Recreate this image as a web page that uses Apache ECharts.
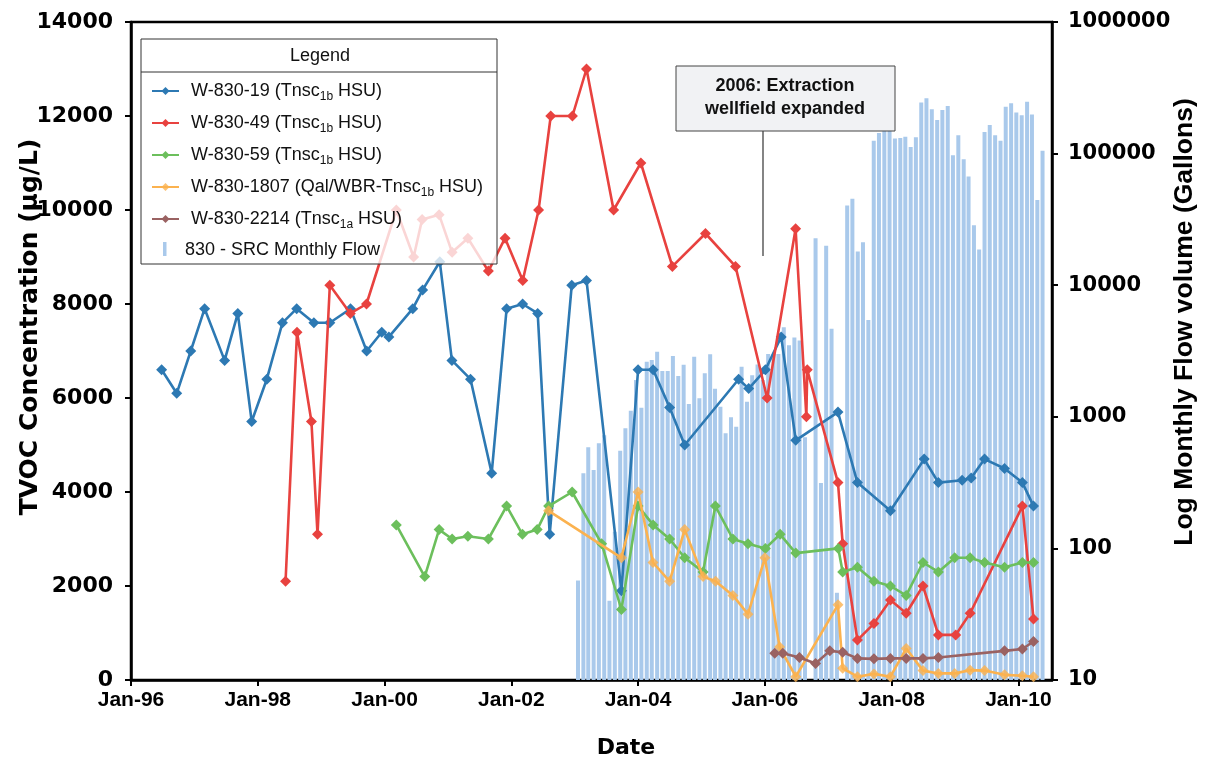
<!DOCTYPE html>
<html>
<head>
<meta charset="utf-8">
<script src="https://cdn.jsdelivr.net/npm/echarts@6/dist/echarts.min.js"></script>
<style>
  html, body { margin: 0; padding: 0; background: #fff; }
  #chart { width: 1205px; height: 764px; }
</style>
</head>
<body>
<div id="chart"></div>
<script>
// ---- Sample data: TVOC concentration (ug/L) by well ----
const w19Dates = ['1996-06-26','1996-09-21','1996-12-11','1997-03-01','1997-06-24','1997-09-08','1997-11-27',
  '1998-02-22','1998-05-23','1998-08-13','1998-11-20','1999-02-20','1999-06-19','1999-09-20','1999-12-16',
  '2000-01-26','2000-06-12','2000-08-08','2000-11-15','2001-01-24','2001-05-11','2001-09-10','2001-12-05',
  '2002-03-07','2002-06-02','2002-08-10','2002-12-15','2003-03-10','2003-09-27','2004-01-01','2004-03-28',
  '2004-07-01','2004-09-26','2005-08-03','2005-09-30','2006-01-04','2006-04-05','2006-06-28','2007-02-26',
  '2007-06-18','2007-12-25','2008-07-07','2008-09-27','2009-02-11','2009-04-04','2009-06-20','2009-10-13',
  '2010-01-24','2010-03-29'];
const w19Values = [6600,6100,7000,7900,6800,7800,5500,6400,7600,7900,7600,7600,7900,7000,7400,7300,7900,8300,8900,
  6800,6400,4400,7900,8000,7800,3100,8400,8500,1900,6600,6600,5800,5000,6400,6200,6600,7300,5100,5700,4200,3600,
  4700,4200,4250,4300,4700,4500,4200,3700];

const w49Dates = ['1998-06-10','1998-08-15','1998-11-06','1998-12-11','1999-02-20','1999-06-18','1999-09-19',
  '2000-03-09','2000-06-17','2000-08-05','2000-11-11','2001-01-25','2001-04-26','2001-08-22','2001-11-26',
  '2002-03-08','2002-06-07','2002-08-16','2002-12-19','2003-03-10','2003-08-13','2004-01-17','2004-07-17',
  '2005-01-24','2005-07-16','2006-01-14','2006-06-27','2006-08-28','2006-09-02','2007-02-26','2007-03-25',
  '2007-06-18','2007-09-21','2007-12-25','2008-03-25','2008-06-30','2008-09-27','2009-01-05','2009-03-29',
  '2010-01-24','2010-03-29'];
const w49Values = [2100,7400,5500,3100,8400,7800,8000,10000,9000,9800,9900,9100,9400,8700,9400,8500,10000,12000,
  12000,13000,10000,11000,8800,9500,8800,6000,9600,5600,6600,4200,2900,850,1200,1700,1420,2000,960,960,1420,
  3700,1300];

const w59Dates = ['2000-03-09','2000-08-20','2000-11-11','2001-01-25','2001-04-26','2001-08-22','2001-12-05',
  '2002-03-06','2002-05-30','2002-08-04','2002-12-17','2003-06-05','2003-09-27','2004-01-01','2004-03-28',
  '2004-07-01','2004-09-26','2005-01-10','2005-03-22','2005-07-01','2005-09-26','2006-01-04','2006-03-30',
  '2006-06-28','2007-02-28','2007-03-25','2007-06-18','2007-09-21','2007-12-25','2008-03-25','2008-06-30',
  '2008-09-27','2008-12-30','2009-03-29','2009-06-20','2009-10-13','2010-01-24','2010-03-29'];
const w59Values = [3300,2200,3200,3000,3060,3000,3700,3100,3200,3700,4000,2900,1500,3700,3300,3000,2600,2300,
  3700,3000,2900,2800,3100,2700,2800,2300,2400,2100,2000,1800,2500,2300,2600,2600,2500,2400,2500,2500];

const w1807Dates = ['2002-08-04','2003-09-27','2004-01-01','2004-03-27','2004-07-01','2004-09-26','2005-01-10',
  '2005-03-23','2005-07-01','2005-09-26','2006-01-01','2006-03-27','2006-06-28','2007-02-26','2007-03-25',
  '2007-06-18','2007-09-21','2007-12-25','2008-03-25','2008-06-30','2008-09-27','2008-12-30','2009-03-29',
  '2009-06-20','2009-10-13','2010-01-24','2010-03-29'];
const w1807Values = [3600,2600,4000,2500,2100,3200,2200,2100,1800,1400,2600,700,70,1600,250,70,130,70,670,200,
  140,140,210,200,110,90,70];

const w2214Dates = ['2006-02-27','2006-04-14','2006-07-19','2006-10-20','2007-01-10','2007-03-25','2007-06-18',
  '2007-09-21','2007-12-25','2008-03-25','2008-06-30','2008-09-27','2009-10-13','2010-01-24','2010-03-29'];
const w2214Values = [570,570,480,350,620,590,460,450,460,460,460,480,620,660,820];

// ---- Monthly extraction flow (gallons), Jan 2003 onward; 0 = no flow that month ----
const flowStartMonth = '2003-01';
const flowGallons = [
  57,372,586,394,629,723,40,134,552,818,1112,1905,
  1172,2625,2704,3126,2230,2230,2897,2042,2489,1250,2863,1381,
  2138,2983,1637,1194,750,991,841,2404,1303,2066,2500,1900,
  3000,3000,3000,4800,3500,4000,3800,700,0,22700,314,19900,
  4670,46,0,40400,45400,18000,21200,5450,125000,143500,151000,151000,
  130000,131500,134500,112000,133000,244000,263000,217000,180000,214000,230000,97000,
  138000,90600,67000,28500,18700,146000,165000,138000,125000,227000,241000,205000,
  196000,248000,198000,44500,105000];

// ---- Axis ticks and labels ----
const xTickYears = [1996,1998,2000,2002,2004,2006,2008,2010];
const seriesNames = ['W-830-19','W-830-49','W-830-59','W-830-1807','W-830-2214'];
const legendLabels = {
  'W-830-19': 'W-830-19 (Tnsc{s|1b} HSU)',
  'W-830-49': 'W-830-49 (Tnsc{s|1b} HSU)',
  'W-830-59': 'W-830-59 (Tnsc{s|1b} HSU)',
  'W-830-1807': 'W-830-1807 (Qal/WBR-Tnsc{s|1b} HSU)',
  'W-830-2214': 'W-830-2214 (Tnsc{s|1a} HSU)'
};
const flowName = '830 - SRC Monthly Flow';
const seriesColors = ['#2d79b3', '#e8423f', '#6cbf5c', '#fbb24f', '#9a6262'];

// Convert a 'YYYY-MM-DD' date to a decimal year.
function toYear(s) {
  const p = s.split('-').map(Number);
  const y = p[0];
  const t0 = Date.UTC(y, 0, 1), t1 = Date.UTC(y + 1, 0, 1);
  return y + (Date.UTC(y, p[1] - 1, p[2] || 1) - t0) / (t1 - t0);
}
function pairs(dates, values) {
  return dates.map((d, i) => [toYear(d), values[i]]);
}
// Monthly totals are plotted late in their month.
function flowData() {
  const [y0, m0] = flowStartMonth.split('-').map(Number);
  return flowGallons.map((v, i) => {
    const m = m0 - 1 + i;
    const y = y0 + Math.floor(m / 12);
    const mm = (m % 12) + 1;
    return [toYear(y + '-' + String(mm).padStart(2, '0') + '-20'), v > 0 ? v : null];
  });
}

const FONT = 'Arial, "Liberation Sans", sans-serif';
const WIDE = '"DejaVu Sans", Verdana, sans-serif';
const sampleSets = [
  pairs(w19Dates, w19Values),
  pairs(w49Dates, w49Values),
  pairs(w59Dates, w59Values),
  pairs(w1807Dates, w1807Values),
  pairs(w2214Dates, w2214Values)
];

const lineSeries = seriesNames.map((name, i) => ({
  name: name,
  type: 'line',
  yAxisIndex: 0,
  data: sampleSets[i],
  symbol: 'diamond',
  symbolSize: 11,
  showSymbol: true,
  z: 3 + i * 0.01,
  lineStyle: { color: seriesColors[i], width: 2.6 },
  itemStyle: { color: seriesColors[i], opacity: name === 'W-830-1807' ? 0.8 : 1 },
  emphasis: { disabled: true },
  animation: false
}));

const chart = echarts.init(document.getElementById('chart'), null, { renderer: 'canvas' });

chart.setOption({
  backgroundColor: '#fff',
  animation: false,
  grid: {
    left: 131, right: 153, top: 22, bottom: 84,
    show: true, borderColor: '#000', borderWidth: 2.5, backgroundColor: 'transparent'
  },
  legend: {
    data: seriesNames,
    orient: 'vertical',
    left: 146, top: 74,
    itemGap: 8,
    itemWidth: 27, itemHeight: 10,
    selectedMode: false,
    formatter: name => legendLabels[name],
    textStyle: {
      fontFamily: FONT, fontSize: 18, color: '#111', lineHeight: 24,
      padding: [0, 0, 0, 7],
      rich: { s: { fontFamily: FONT, fontSize: 12, color: '#111', lineHeight: 12, verticalAlign: 'bottom' } }
    },
    z: 10
  },
  xAxis: {
    type: 'value',
    min: 1996, max: 2010.53, interval: 2,
    axisLine: { show: true, onZero: false, lineStyle: { color: '#000', width: 2.5 } },
    axisTick: { show: true, length: 6, lineStyle: { color: '#000', width: 2 } },
    axisLabel: {
      showMaxLabel: false,
      margin: 10,
      color: '#000', fontFamily: FONT, fontWeight: 'bold', fontSize: 21,
      formatter: v => xTickYears.indexOf(v) >= 0 ? 'Jan-' + String(v).slice(2) : ''
    },
    splitLine: { show: false }
  },
  yAxis: [
    {
      type: 'value', position: 'left',
      min: 0, max: 14000, interval: 2000,
      axisLine: { show: true, lineStyle: { color: '#000', width: 2.5 } },
      axisTick: { show: true, length: 6, lineStyle: { color: '#000', width: 2 } },
      axisLabel: {
        margin: 18, color: '#000', fontFamily: WIDE, fontWeight: 'bold', fontSize: 22,
        formatter: v => String(v)
      },
      splitLine: { show: false }
    },
    {
      type: 'log', logBase: 10, position: 'right',
      min: 10, max: 1000000,
      axisLine: { show: true, lineStyle: { color: '#000', width: 2.5 } },
      axisTick: { show: true, length: 6, lineStyle: { color: '#000', width: 2 } },
      minorTick: { show: false },
      axisLabel: {
        margin: 16, color: '#000', fontFamily: WIDE, fontWeight: 'bold', fontSize: 21,
        formatter: v => String(Math.round(v))
      },
      splitLine: { show: false }
    }
  ],
  series: [
    {
      name: flowName,
      type: 'bar',
      yAxisIndex: 1,
      data: flowData(),
      barWidth: 4,
      clip: true,
      z: 1,
      itemStyle: { color: '#a9c9eb' },
      emphasis: { disabled: true },
      animation: false
    }
  ].concat(lineSeries),
  graphic: [
    // legend frame
    { type: 'rect', z: 5, shape: { x: 141, y: 39, width: 356, height: 225 },
      style: { fill: 'rgba(255,255,255,0.78)', stroke: '#333', lineWidth: 1 } },
    { type: 'line', z: 6, shape: { x1: 141, y1: 72, x2: 497, y2: 72 }, style: { stroke: '#333', lineWidth: 1 } },
    { type: 'text', z: 6, x: 320, y: 56,
      style: { text: 'Legend', font: '18px ' + FONT, fill: '#111', textAlign: 'center', textVerticalAlign: 'middle' } },
    { type: 'rect', z: 6, shape: { x: 163, y: 242, width: 3.5, height: 14 }, style: { fill: '#a9c9eb' } },
    { type: 'text', z: 6, x: 185, y: 250,
      style: { text: flowName, font: '18px ' + FONT, fill: '#111', textAlign: 'left', textVerticalAlign: 'middle' } },
    // annotation
    { type: 'line', z: 5, shape: { x1: 763, y1: 131, x2: 763, y2: 256 }, style: { stroke: '#333', lineWidth: 1.2 } },
    { type: 'rect', z: 5, shape: { x: 676, y: 66, width: 219, height: 65 },
      style: { fill: '#f1f2f4', stroke: '#444', lineWidth: 1 } },
    { type: 'text', z: 6, x: 785, y: 98,
      style: { text: '2006: Extraction\nwellfield expanded', font: 'bold 18px ' + FONT, fill: '#111',
        textAlign: 'center', textVerticalAlign: 'middle', lineHeight: 23 } },
    // axis titles
    { type: 'text', z: 6, x: 30, y: 327, rotation: Math.PI / 2,
      style: { text: 'TVOC Concentration (\u03bcg/L)', font: 'bold 25px ' + WIDE, fill: '#000',
        textAlign: 'center', textVerticalAlign: 'middle' } },
    { type: 'text', z: 6, x: 1185, y: 322, rotation: Math.PI / 2,
      style: { text: 'Log Monthly Flow volume (Gallons)', font: 'bold 26.5px ' + FONT, fill: '#000',
        textAlign: 'center', textVerticalAlign: 'middle' } },
    { type: 'text', z: 6, x: 626, y: 748,
      style: { text: 'Date', font: 'bold 22px ' + WIDE, fill: '#000',
        textAlign: 'center', textVerticalAlign: 'middle' } }
  ]
});
</script>
</body>
</html>
